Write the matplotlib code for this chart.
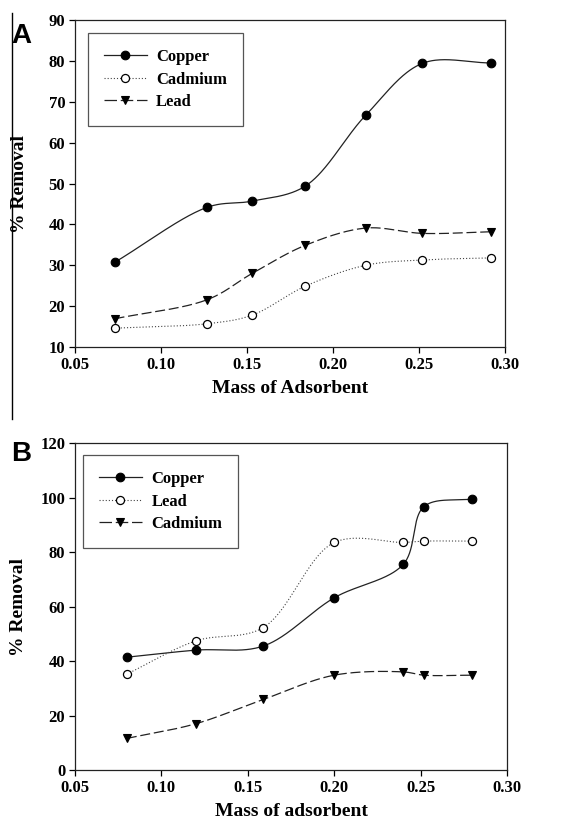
import numpy as np
import matplotlib
matplotlib.use("Agg")
import matplotlib.pyplot as plt
from matplotlib.lines import Line2D

# ---------------- data ----------------
# Panel A
xa = [0.073, 0.127, 0.153, 0.184, 0.219, 0.252, 0.292]
a_copper = [30.7, 44.2, 45.7, 49.4, 66.7, 79.4, 79.5]
a_cadmium = [14.6, 15.7, 17.8, 24.9, 30.0, 31.3, 31.8]
a_lead = [16.9, 21.6, 28.0, 34.9, 39.1, 37.8, 38.2]

# Panel B
xb = [0.080, 0.120, 0.159, 0.200, 0.240, 0.252, 0.280]
b_copper = [41.4, 44.0, 45.5, 63.2, 75.5, 96.7, 99.5]
b_lead = [35.2, 47.4, 52.3, 83.5, 83.5, 84.0, 84.0]
b_cadmium = [11.6, 17.0, 25.9, 34.8, 36.0, 34.8, 34.8]

xticks = [0.05, 0.10, 0.15, 0.20, 0.25, 0.30]
a_yticks = [10, 20, 30, 40, 50, 60, 70, 80, 90]
b_yticks = [0, 20, 40, 60, 80, 100, 120]


def cr_spline(x, y, sx, sy, n=60, alpha=0.5):
    """Centripetal Catmull-Rom curve through the points, computed in screen-like units."""
    P = np.column_stack([np.asarray(x, float) * sx, np.asarray(y, float) * sy])
    P = np.vstack([2 * P[0] - P[1], P, 2 * P[-1] - P[-2]])
    out = []
    for i in range(1, len(P) - 2):
        p0, p1, p2, p3 = P[i - 1], P[i], P[i + 1], P[i + 2]
        t0 = 0.0
        t1 = t0 + np.linalg.norm(p1 - p0) ** alpha
        t2 = t1 + np.linalg.norm(p2 - p1) ** alpha
        t3 = t2 + np.linalg.norm(p3 - p2) ** alpha
        t = np.linspace(t1, t2, n)[:, None]
        A1 = (t1 - t) / (t1 - t0) * p0 + (t - t0) / (t1 - t0) * p1
        A2 = (t2 - t) / (t2 - t1) * p1 + (t - t1) / (t2 - t1) * p2
        A3 = (t3 - t) / (t3 - t2) * p2 + (t - t2) / (t3 - t2) * p3
        B1 = (t2 - t) / (t2 - t0) * A1 + (t - t0) / (t2 - t0) * A2
        B2 = (t3 - t) / (t3 - t1) * A2 + (t - t1) / (t3 - t1) * A3
        C = (t2 - t) / (t2 - t1) * B1 + (t - t1) / (t2 - t1) * B2
        out.append(C if i == 1 else C[1:])
    C = np.vstack(out)
    return C[:, 0] / sx, C[:, 1] / sy


plt.rcParams['font.family'] = ['Liberation Serif', 'DejaVu Serif']
plt.rcParams['font.weight'] = 'bold'

fig = plt.figure(figsize=(5.63, 8.27), dpi=100)

solid = dict(linestyle='-', color='#222222', lw=0.9)
dotted = dict(linestyle=(0, (1, 1.8)), color='#444444', lw=0.8)
dashed = dict(linestyle=(0, (8, 3)), color='#222222', lw=0.9)

mk_fill = dict(marker='o', markersize=6.2, markerfacecolor='black', markeredgecolor='black', mew=0.8)
mk_open = dict(marker='o', markersize=5.8, markerfacecolor='white', markeredgecolor='black', mew=0.9)
mk_tri = dict(marker='v', markersize=6.2, markerfacecolor='black', markeredgecolor='black', mew=0.8)

lg_anchor = {'A': (0.03, 0.96), 'B': (0.0185, 0.963)}


def draw_panel(ax, x, series, ylim, yticks, xlabel, letter, sx, sy):
    handles = []
    for name, y, ls, mk in series:
        xs, ys = cr_spline(x, y, sx, sy)
        ax.plot(xs, ys, **ls, zorder=2)
        ax.plot(x, y, linestyle='none', **mk, zorder=3)
        leg_ls = dict(ls)
        if ls is dashed:
            leg_ls['linestyle'] = (0, (10, 3))
        handles.append(Line2D([], [], label=name, **leg_ls, **mk))
    ax.set_xlim(0.05, 0.30)
    ax.set_ylim(*ylim)
    ax.set_xticks(xticks)
    ax.set_xticklabels([f"{t:.2f}" for t in xticks])
    ax.set_yticks(yticks)
    ax.tick_params(direction='out', length=4, width=0.9, labelsize=12, pad=3)
    for lab in ax.get_xticklabels() + ax.get_yticklabels():
        lab.set_fontweight('bold')
    for s in ax.spines.values():
        s.set_linewidth(0.9)
        s.set_color('#222222')
    ax.set_xlabel(xlabel, fontsize=14, fontweight='bold', labelpad=5.5)
    ax.set_ylabel('% Removal', fontsize=14, fontweight='bold')
    ax.yaxis.set_label_coords(-0.110, 0.5)
    leg = ax.legend(handles=handles, loc='upper left', bbox_to_anchor=lg_anchor[letter],
                    borderaxespad=0, frameon=True, fancybox=False, framealpha=1,
                    edgecolor='#555555', handlelength=2.6, handletextpad=0.55,
                    borderpad=0.95, labelspacing=0.4,
                    prop={'family': 'Liberation Serif', 'weight': 'bold', 'size': 12})
    leg.get_frame().set_linewidth(0.9)
    return ax


axA = fig.add_axes([0.1332, 0.5804, 0.7638, 0.3954])
draw_panel(axA, xa, [('Copper', a_copper, solid, mk_fill),
                     ('Cadmium', a_cadmium, dotted, mk_open),
                     ('Lead', a_lead, dashed, mk_tri)],
           (10, 90), a_yticks, 'Mass of Adsorbent', 'A', 430 / 0.25, 327 / 80)

axB = fig.add_axes([0.1332, 0.0689, 0.7673, 0.3954])
draw_panel(axB, xb, [('Copper', b_copper, solid, mk_fill),
                     ('Lead', b_lead, dotted, mk_open),
                     ('Cadmium', b_cadmium, dashed, mk_tri)],
           (0, 120), b_yticks, 'Mass of adsorbent', 'B', 432 / 0.25, 327 / 120)

fig.text(0.02, 0.948, 'A', fontsize=20, fontweight='bold', family='Liberation Sans', va='baseline')
fig.text(0.02, 0.443, 'B', fontsize=20, fontweight='bold', family='Liberation Sans', va='baseline')

fig.add_artist(Line2D([12 / 563, 12 / 563], [1 - 13 / 827, 1 - 419 / 827], color='black', lw=1.0,
                      transform=fig.transFigure))

fig.savefig('out.png', dpi=100)
